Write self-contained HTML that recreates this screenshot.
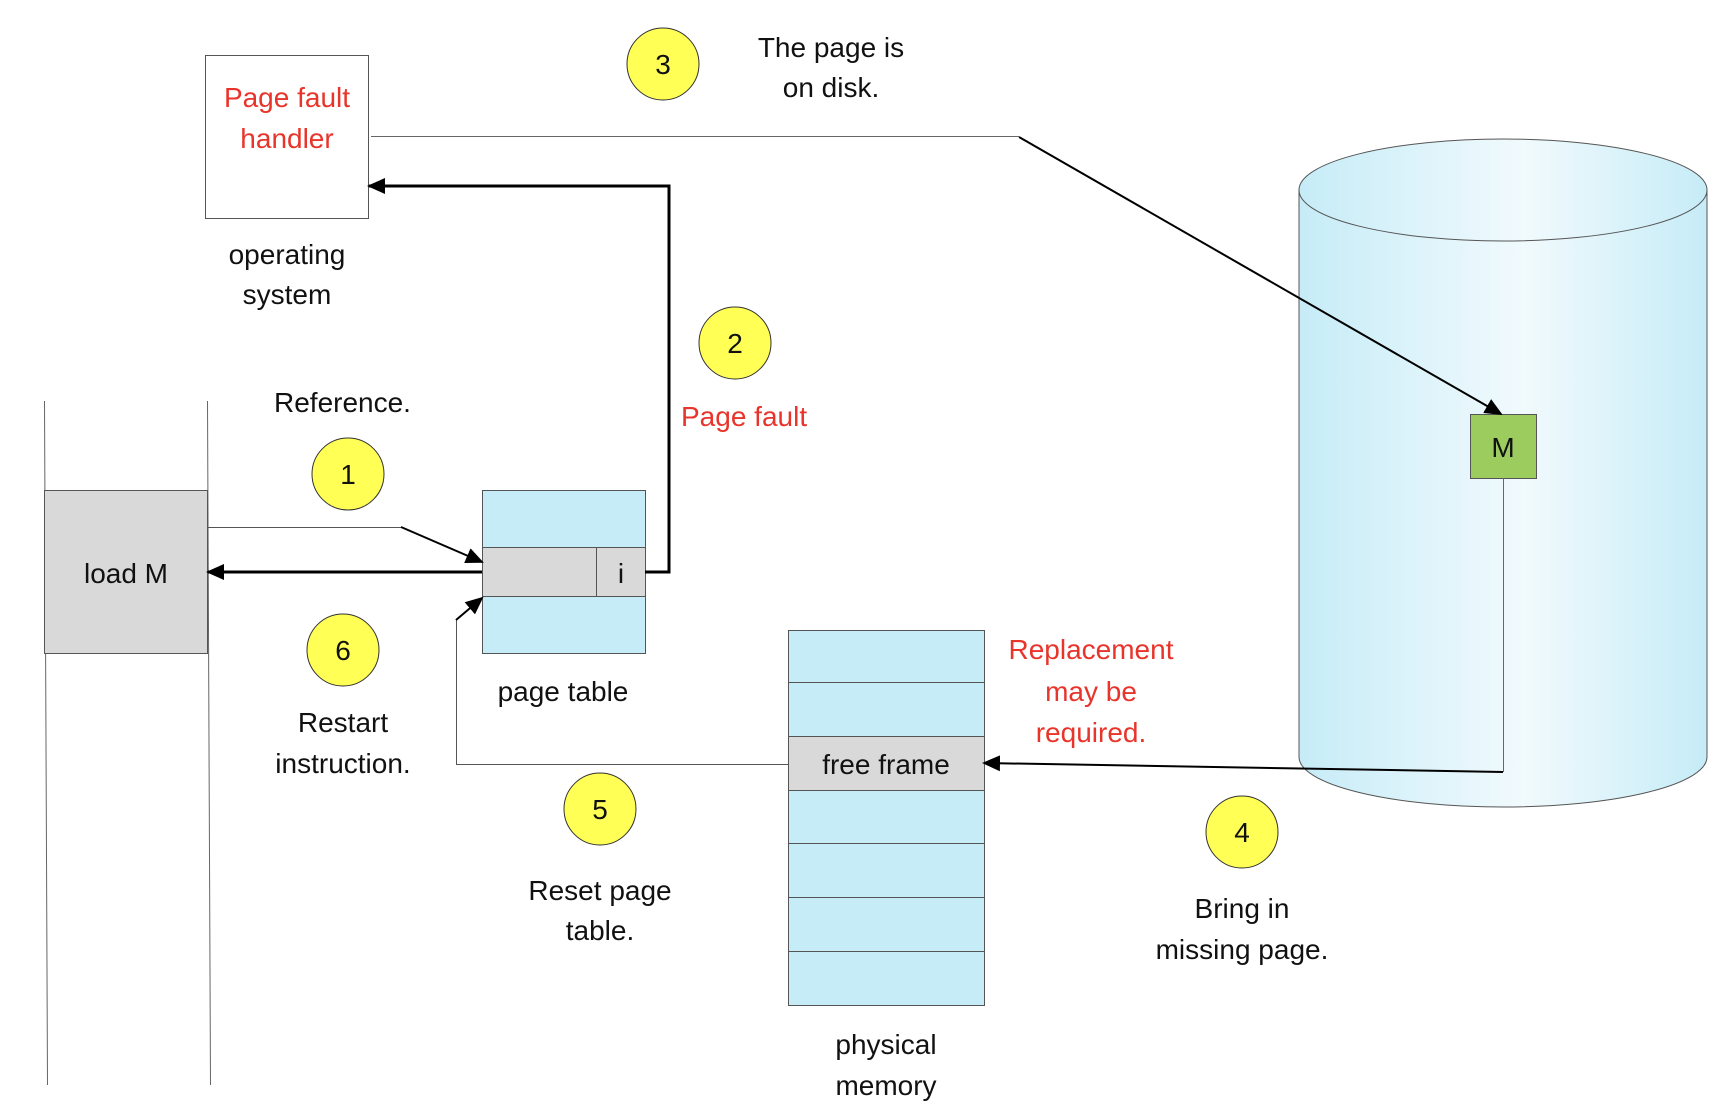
<!DOCTYPE html>
<html><head><meta charset="utf-8"><style>
html,body{margin:0;padding:0;background:#fff;}
svg{display:block;}
text{font-family:"Liberation Sans",sans-serif;font-size:28px;fill:#111;}
.r{fill:#e8342a;}
</style></head><body>
<svg width="1734" height="1106" viewBox="0 0 1734 1106" xmlns="http://www.w3.org/2000/svg">
<defs>
<marker id="ah2" markerWidth="18" markerHeight="16" refX="16" refY="8" orient="auto" markerUnits="userSpaceOnUse"><path d="M0,0 L18,8 L0,16 z" fill="#000"/></marker>
<linearGradient id="cg" x1="0" x2="1" y1="0" y2="0">
<stop offset="0" stop-color="#c6ecf7"/><stop offset="0.55" stop-color="#f1fafd"/><stop offset="1" stop-color="#c6ecf7"/>
</linearGradient>
</defs>

<path d="M1299,190 L1299,757 A204,50 0 0 0 1707,757 L1707,190 Z" fill="url(#cg)" stroke="#555" stroke-width="1"/>
<ellipse cx="1503" cy="190" rx="204" ry="51" fill="url(#cg)" stroke="#555" stroke-width="1"/>

<rect x="205.5" y="55.5" width="163" height="163" fill="#fff" stroke="#555"/>
<text class="r" x="287" y="107" text-anchor="middle">Page fault</text>
<text class="r" x="287" y="148" text-anchor="middle">handler</text>
<text x="287" y="264" text-anchor="middle">operating</text>
<text x="287" y="304" text-anchor="middle">system</text>

<g fill="#ffff55" stroke="#333" stroke-width="1">
<circle cx="663" cy="64" r="36"/><circle cx="735" cy="343" r="36"/><circle cx="348" cy="474" r="36"/>
<circle cx="343" cy="650" r="36"/><circle cx="600" cy="809" r="36"/><circle cx="1242" cy="832" r="36"/>
</g>
<g text-anchor="middle">
<text x="663" y="74">3</text><text x="735" y="353">2</text><text x="348" y="484">1</text>
<text x="343" y="660">6</text><text x="600" y="819">5</text><text x="1242" y="842">4</text>
</g>

<text x="831" y="57" text-anchor="middle">The page is</text>
<text x="831" y="97" text-anchor="middle">on disk.</text>
<text class="r" x="681" y="426">Page fault</text>
<text x="274" y="412">Reference.</text>
<text x="343" y="732" text-anchor="middle">Restart</text>
<text x="343" y="773" text-anchor="middle">instruction.</text>
<text x="563" y="701" text-anchor="middle">page table</text>
<text x="600" y="900" text-anchor="middle">Reset page</text>
<text x="600" y="940" text-anchor="middle">table.</text>
<text x="886" y="1054" text-anchor="middle">physical</text>
<text x="886" y="1095" text-anchor="middle">memory</text>
<text class="r" x="1091" y="659" text-anchor="middle">Replacement</text>
<text class="r" x="1091" y="701" text-anchor="middle">may be</text>
<text class="r" x="1091" y="742" text-anchor="middle">required.</text>
<text x="1242" y="918" text-anchor="middle">Bring in</text>
<text x="1242" y="959" text-anchor="middle">missing page.</text>

<line x1="44.5" y1="401" x2="47.5" y2="1085" stroke="#666"/>
<line x1="207.5" y1="401" x2="210.5" y2="1085" stroke="#666"/>
<rect x="44.5" y="490.5" width="163" height="163" fill="#d9d9d9" stroke="#555"/>
<text x="126" y="583" text-anchor="middle">load M</text>

<rect x="482.5" y="490.5" width="163" height="163" fill="#c6ecf7" stroke="#555"/>
<rect x="482.5" y="547.5" width="163" height="49" fill="#d9d9d9" stroke="#555"/>
<line x1="596.5" y1="547" x2="596.5" y2="596" stroke="#555"/>
<text x="621" y="583" text-anchor="middle">i</text>

<rect x="788.5" y="630.5" width="196" height="375" fill="#c6ecf7" stroke="#555"/>
<rect x="788.5" y="736.5" width="196" height="54" fill="#d9d9d9" stroke="#555"/>
<g stroke="#555"><line x1="788" y1="682.5" x2="984" y2="682.5"/><line x1="788" y1="843.5" x2="984" y2="843.5"/><line x1="788" y1="897.5" x2="984" y2="897.5"/><line x1="788" y1="951.5" x2="984" y2="951.5"/></g>
<text x="886" y="774" text-anchor="middle">free frame</text>

<rect x="1470.5" y="414.5" width="66" height="64" fill="#9ccc5e" stroke="#555"/>
<text x="1503" y="457" text-anchor="middle">M</text>

<line x1="207" y1="527.5" x2="401" y2="527.5" stroke="#555" stroke-width="1"/>
<line x1="401" y1="527" x2="482" y2="562" stroke="#000" stroke-width="2" marker-end="url(#ah2)"/>
<line x1="482" y1="572" x2="208" y2="572" stroke="#000" stroke-width="3" marker-end="url(#ah2)"/>
<polyline points="645,572 669,572 669,186 369,186" fill="none" stroke="#000" stroke-width="3" marker-end="url(#ah2)"/>
<line x1="371" y1="136.5" x2="1019" y2="136.5" stroke="#666"/>
<line x1="1019" y1="137" x2="1501" y2="414" stroke="#000" stroke-width="2" marker-end="url(#ah2)"/>
<line x1="1503.5" y1="478" x2="1503.5" y2="772" stroke="#666" stroke-width="1"/>
<line x1="1503" y1="772" x2="984" y2="763" stroke="#000" stroke-width="2" marker-end="url(#ah2)"/>
<polyline points="788,764.5 456.5,764.5 456.5,620" fill="none" stroke="#555" stroke-width="1"/>
<line x1="456" y1="620" x2="482" y2="598" stroke="#000" stroke-width="2" marker-end="url(#ah2)"/>
</svg>
</body></html>
